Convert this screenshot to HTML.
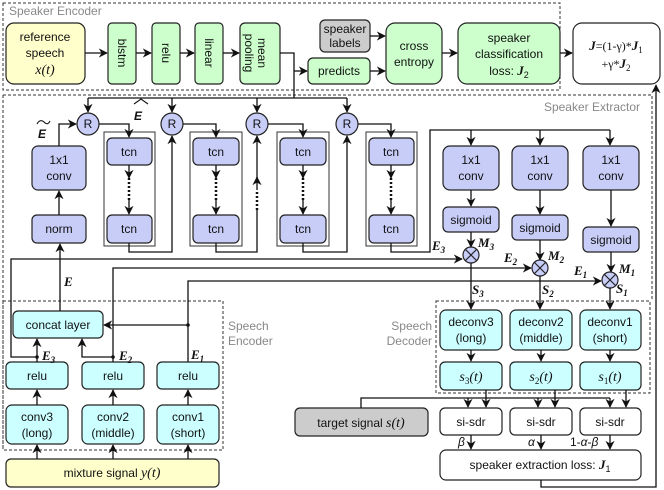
<!DOCTYPE html>
<html><head><meta charset="utf-8"><style>
html,body{margin:0;padding:0;background:#fff}
svg{display:block}
text{font-family:"Liberation Sans",sans-serif;font-size:12px;fill:#111}
.m{font-family:"Liberation Serif",serif;font-style:italic;font-weight:bold;font-size:13px}
.g{fill:#888;font-size:12px}
.b{stroke:#222;stroke-width:1.2}
.l{stroke:#111;stroke-width:1.3;fill:none}
.d{stroke:#333;stroke-width:1;fill:none;stroke-dasharray:3,2}
</style></head><body>
<svg width="664" height="490" viewBox="0 0 664 490" xmlns="http://www.w3.org/2000/svg">
<defs><marker id="a" viewBox="0 0 10 10" refX="9" refY="5" markerWidth="7" markerHeight="7" orient="auto-start-reverse"><path d="M0,0 L10,5 L0,10 L3,5z" fill="#111"/></marker></defs>

<rect class="d" x="3" y="3" width="557" height="87"/>
<text class="g" x="9" y="15">Speaker Encoder</text>
<path class="d" d="M3,95 H652 V300 M3,95 V450"/>
<text class="g" x="640" y="111" text-anchor="end">Speaker Extractor</text>
<rect class="d" x="3" y="301" width="220" height="149"/>
<text class="g" x="228" y="330">Speech</text><text class="g" x="228" y="345">Encoder</text>
<rect class="d" x="436" y="301" width="214" height="92"/>
<text class="g" x="432" y="330" text-anchor="end">Speech</text><text class="g" x="432" y="345" text-anchor="end">Decoder</text>

<rect class="b" x="6" y="23" width="79" height="61" rx="8" fill="#ffffcc"/>
<text x="45" y="41" text-anchor="middle">reference</text><text x="45" y="57" text-anchor="middle">speech</text>
<text x="45" y="74" text-anchor="middle" style="font-family:'Liberation Serif',serif;font-style:italic;font-size:14px">x(t)</text>
<rect class="b" x="108" y="23" width="28" height="61" rx="4" fill="#ccffcc"/>
<rect class="b" x="152" y="23" width="28" height="61" rx="4" fill="#ccffcc"/>
<rect class="b" x="195" y="23" width="28" height="61" rx="4" fill="#ccffcc"/>
<rect class="b" x="240" y="23" width="40" height="61" rx="5" fill="#ccffcc"/>
<text transform="translate(118,53) rotate(90)" text-anchor="middle">blstm</text>
<text transform="translate(162,53) rotate(90)" text-anchor="middle">relu</text>
<text transform="translate(205,53) rotate(90)" text-anchor="middle">linear</text>
<text transform="translate(258,53) rotate(90)" text-anchor="middle">mean</text>
<text transform="translate(245,53) rotate(90)" text-anchor="middle">pooling</text>
<path class="l" marker-end="url(#a)" d="M85,53 H107"/>
<path class="l" marker-end="url(#a)" d="M136,53 H151"/>
<path class="l" marker-end="url(#a)" d="M180,53 H194"/>
<path class="l" marker-end="url(#a)" d="M223,53 H239"/>
<rect class="b" x="320" y="20" width="50" height="32" rx="5" fill="#cccccc"/>
<text x="345" y="33" text-anchor="middle">speaker</text><text x="345" y="47" text-anchor="middle">labels</text>
<rect class="b" x="308" y="58" width="62" height="26" rx="5" fill="#ccffcc"/>
<text x="339" y="75" text-anchor="middle">predicts</text>
<path class="l" d="M280,53 H294 V98"/>
<path class="l" marker-end="url(#a)" d="M294,71 H307"/>
<rect class="b" x="386" y="23" width="56" height="61" rx="9" fill="#ccffcc"/>
<text x="414" y="50" text-anchor="middle">cross</text><text x="414" y="66" text-anchor="middle">entropy</text>
<path class="l" marker-end="url(#a)" d="M370,36 H385"/>
<path class="l" marker-end="url(#a)" d="M370,71 H385"/>
<rect class="b" x="458" y="23" width="102" height="61" rx="9" fill="#ccffcc"/>
<text x="509" y="42" text-anchor="middle">speaker</text><text x="509" y="58" text-anchor="middle">classification</text>
<text x="509" y="75" text-anchor="middle">loss: <tspan class="m">J</tspan><tspan style="font-size:9px" dy="3">2</tspan></text>
<path class="l" marker-end="url(#a)" d="M442,53 H457"/>
<path class="l" marker-end="url(#a)" d="M560,53 H572"/>
<rect class="b" x="573" y="23" width="87" height="61" rx="9" fill="#fff"/>
<text x="616" y="50" text-anchor="middle" style="font-family:'Liberation Serif',serif;font-size:12px"><tspan class="m">J</tspan>=(1-γ)*<tspan class="m">J</tspan><tspan style="font-size:9px" dy="3">1</tspan></text>
<text x="616" y="68" text-anchor="middle" style="font-family:'Liberation Serif',serif;font-size:12px">+γ*<tspan class="m">J</tspan><tspan style="font-size:9px" dy="3">2</tspan></text>

<path class="l" d="M88,98 H347"/>
<path class="l" marker-end="url(#a)" d="M88,98 V112"/>
<path class="l" marker-end="url(#a)" d="M172,98 V112"/>
<path class="l" marker-end="url(#a)" d="M257,98 V112"/>
<path class="l" marker-end="url(#a)" d="M347,98 V112"/>
<g fill="#c8cdf8" stroke="#222" stroke-width="1.2">
<circle cx="88" cy="124" r="11"/><circle cx="172" cy="124" r="11"/><circle cx="257" cy="124" r="11"/><circle cx="347" cy="124" r="11"/></g>
<g text-anchor="middle"><text x="88" y="128">R</text><text x="172" y="128">R</text><text x="257" y="128">R</text><text x="347" y="128">R</text></g>

<rect class="b" x="32" y="146" width="54" height="44" rx="6" fill="#c8cdf8"/>
<text x="59" y="164" text-anchor="middle">1x1</text><text x="59" y="180" text-anchor="middle">conv</text>
<rect class="b" x="32" y="215" width="54" height="28" rx="5" fill="#c8cdf8"/>
<text x="59" y="233" text-anchor="middle">norm</text>
<path class="l" marker-end="url(#a)" d="M59,215 V191"/>
<path class="l" marker-end="url(#a)" d="M59,146 V124 H76"/>
<text x="38" y="138" font-size="16" font-family="Liberation Serif" font-style="italic" font-weight="bold">E</text>
<path d="M37,124 C39,120 42,120 44,122 S48,125 50,121" stroke="#111" stroke-width="1.1" fill="none"/>
<text x="134" y="120" font-size="16" font-family="Liberation Serif" font-style="italic" font-weight="bold">E</text>
<path d="M134,104 L141,99 L148,104" stroke="#111" stroke-width="1.1" fill="none"/>

<g>
<rect x="104" y="132" width="51" height="114" fill="none" stroke="#333"/>
<rect x="190" y="132" width="52" height="114" fill="none" stroke="#333"/>
<rect x="277" y="132" width="52" height="114" fill="none" stroke="#333"/>
<rect x="366" y="132" width="51" height="114" fill="none" stroke="#333"/>
</g>
<g fill="#c8cdf8">
<rect class="b" x="107" y="138" width="45" height="27" rx="5"/><rect class="b" x="107" y="215" width="45" height="28" rx="5"/>
<rect class="b" x="193" y="138" width="46" height="27" rx="5"/><rect class="b" x="193" y="215" width="46" height="28" rx="5"/>
<rect class="b" x="280" y="138" width="46" height="27" rx="5"/><rect class="b" x="280" y="215" width="46" height="28" rx="5"/>
<rect class="b" x="369" y="138" width="45" height="27" rx="5"/><rect class="b" x="369" y="215" width="45" height="28" rx="5"/>
</g>
<g text-anchor="middle">
<text x="129" y="156">tcn</text><text x="129" y="233">tcn</text>
<text x="216" y="156">tcn</text><text x="216" y="233">tcn</text>
<text x="303" y="156">tcn</text><text x="303" y="233">tcn</text>
<text x="391" y="156">tcn</text><text x="391" y="233">tcn</text>
</g>
<g>
<path class="l" marker-end="url(#a)" d="M129,200 V214"/><path d="M129,178 V200" stroke="#111" stroke-width="2.5" stroke-dasharray="2,2"/>
<path class="l" marker-end="url(#a)" d="M129,165 V178"/>
<path class="l" marker-end="url(#a)" d="M216,165 V178"/><path class="l" marker-end="url(#a)" d="M216,200 V214"/><path d="M216,178 V200" stroke="#111" stroke-width="2.5" stroke-dasharray="2,2"/>
<path class="l" marker-end="url(#a)" d="M303,165 V178"/><path class="l" marker-end="url(#a)" d="M303,200 V214"/><path d="M303,178 V200" stroke="#111" stroke-width="2.5" stroke-dasharray="2,2"/>
<path class="l" marker-end="url(#a)" d="M391,165 V178"/><path class="l" marker-end="url(#a)" d="M391,200 V214"/><path d="M391,178 V200" stroke="#111" stroke-width="2.5" stroke-dasharray="2,2"/>
</g>
<path class="l" marker-end="url(#a)" d="M99,124 H129 V137"/>
<path class="l" marker-end="url(#a)" d="M183,124 H216 V137"/>
<path class="l" marker-end="url(#a)" d="M268,124 H303 V137"/>
<path class="l" marker-end="url(#a)" d="M358,124 H391 V137"/>
<path class="l" marker-end="url(#a)" d="M129,243 V252 H172 V136"/>
<path class="l" d="M216,243 V252 H257 V210"/><path d="M257,210 V190" stroke="#111" stroke-width="2.5" stroke-dasharray="2,2"/><path class="l" marker-end="url(#a)" d="M257,190 V177"/>
<path class="l" marker-end="url(#a)" d="M257,178 V136"/>
<path class="l" marker-end="url(#a)" d="M303,243 V252 H347 V136"/>
<path class="l" d="M391,243 V252 H430 V130 H610"/>
<path class="l" marker-end="url(#a)" d="M471,130 V145"/>
<path class="l" marker-end="url(#a)" d="M540,130 V145"/>
<path class="l" marker-end="url(#a)" d="M610,130 V145"/>

<g fill="#c8cdf8">
<rect class="b" x="443" y="146" width="56" height="44" rx="7"/><rect class="b" x="512" y="146" width="56" height="44" rx="7"/><rect class="b" x="583" y="146" width="56" height="44" rx="7"/>
<rect class="b" x="443" y="207" width="56" height="25" rx="5"/><rect class="b" x="512" y="215" width="56" height="25" rx="5"/><rect class="b" x="583" y="227" width="56" height="25" rx="5"/>
</g>
<g text-anchor="middle">
<text x="471" y="164">1x1</text><text x="471" y="180">conv</text>
<text x="540" y="164">1x1</text><text x="540" y="180">conv</text>
<text x="611" y="164">1x1</text><text x="611" y="180">conv</text>
<text x="471" y="224">sigmoid</text><text x="540" y="232">sigmoid</text><text x="611" y="244">sigmoid</text>
</g>
<path class="l" marker-end="url(#a)" d="M471,190 V206"/>
<path class="l" marker-end="url(#a)" d="M540,190 V214"/>
<path class="l" marker-end="url(#a)" d="M611,190 V226"/>
<path class="l" marker-end="url(#a)" d="M471,232 V247"/>
<path class="l" marker-end="url(#a)" d="M540,240 V260"/>
<path class="l" marker-end="url(#a)" d="M611,252 V272"/>
<g fill="#c8cdf8" stroke="#222" stroke-width="1.2">
<circle cx="471" cy="255" r="8"/><circle cx="540" cy="268" r="8"/><circle cx="610" cy="280" r="8"/></g>
<g stroke="#222" stroke-width="1.2">
<path d="M465,249 L477,261 M477,249 L465,261"/><path d="M534,262 L546,274 M546,262 L534,274"/><path d="M604,274 L616,286 M616,274 L604,286"/></g>
<text class="m" x="478" y="247">M<tspan style="font-size:9px" dy="3">3</tspan></text>
<text class="m" x="548" y="260">M<tspan style="font-size:9px" dy="3">2</tspan></text>
<text class="m" x="619" y="273">M<tspan style="font-size:9px" dy="3">1</tspan></text>
<text class="m" x="432" y="250">E<tspan style="font-size:9px" dy="3">3</tspan></text>
<text class="m" x="504" y="262">E<tspan style="font-size:9px" dy="3">2</tspan></text>
<text class="m" x="574" y="275">E<tspan style="font-size:9px" dy="3">1</tspan></text>
<text class="m" x="472" y="294">S<tspan style="font-size:9px" dy="3">3</tspan></text>
<text class="m" x="542" y="294">S<tspan style="font-size:9px" dy="3">2</tspan></text>
<text class="m" x="616" y="293">S<tspan style="font-size:9px" dy="3">1</tspan></text>
<path class="l" marker-end="url(#a)" d="M471,263 V309"/>
<path class="l" marker-end="url(#a)" d="M540,276 V309"/>
<path class="l" marker-end="url(#a)" d="M610,288 V309"/>

<path class="l" marker-end="url(#a)" d="M37,357 H11 V259 H462"/>
<path class="l" marker-end="url(#a)" d="M113,362 V268 H531"/>
<path class="l" marker-end="url(#a)" d="M188,362 V281 H601"/>

<rect class="b" x="13" y="311" width="90" height="27" rx="5" fill="#ccffff"/>
<text x="58" y="329" text-anchor="middle">concat layer</text>
<path class="l" marker-end="url(#a)" d="M60,311 V244"/>
<text class="m" x="64" y="286">E</text>
<g fill="#ccffff">
<rect class="b" x="6" y="362" width="62" height="27" rx="5"/><rect class="b" x="82" y="362" width="62" height="27" rx="5"/><rect class="b" x="157" y="362" width="62" height="27" rx="5"/>
<rect class="b" x="6" y="405" width="62" height="39" rx="6"/><rect class="b" x="82" y="405" width="62" height="39" rx="6"/><rect class="b" x="157" y="405" width="62" height="39" rx="6"/>
</g>
<g text-anchor="middle">
<text x="37" y="380">relu</text><text x="113" y="380">relu</text><text x="188" y="380">relu</text>
<text x="37" y="421">conv3</text><text x="37" y="437">(long)</text>
<text x="113" y="421">conv2</text><text x="113" y="437">(middle)</text>
<text x="188" y="421">conv1</text><text x="188" y="437">(short)</text>
</g>
<path class="l" marker-end="url(#a)" d="M37,362 V339"/>
<path class="l" marker-end="url(#a)" d="M113,357 H82 V339"/>
<path class="l" marker-end="url(#a)" d="M188,325 H104"/>
<circle cx="37" cy="357" r="1.8" fill="#111"/><circle cx="113" cy="357" r="1.8" fill="#111"/><circle cx="188" cy="325" r="1.8" fill="#111"/>
<text class="m" x="42" y="360">E<tspan style="font-size:9px" dy="3">3</tspan></text>
<text class="m" x="119" y="360">E<tspan style="font-size:9px" dy="3">2</tspan></text>
<text class="m" x="191" y="359">E<tspan style="font-size:9px" dy="3">1</tspan></text>
<path class="l" marker-end="url(#a)" d="M37,405 V390"/><path class="l" marker-end="url(#a)" d="M113,405 V390"/><path class="l" marker-end="url(#a)" d="M188,405 V390"/>
<path class="l" marker-end="url(#a)" d="M37,459 V445"/><path class="l" marker-end="url(#a)" d="M113,459 V445"/><path class="l" marker-end="url(#a)" d="M188,459 V445"/>
<rect class="b" x="6" y="459" width="213" height="28" rx="5" fill="#ffffcc"/>
<text x="112" y="477" text-anchor="middle">mixture signal <tspan style="font-family:'Liberation Serif',serif;font-style:italic;font-size:14px">y(t)</tspan></text>

<g fill="#ccffff">
<rect class="b" x="440" y="310" width="62" height="40" rx="6"/><rect class="b" x="510" y="310" width="62" height="40" rx="6"/><rect class="b" x="580" y="310" width="61" height="40" rx="6"/>
<rect class="b" x="440" y="362" width="62" height="28" rx="5"/><rect class="b" x="510" y="362" width="62" height="28" rx="5"/><rect class="b" x="580" y="362" width="61" height="28" rx="5"/>
</g>
<g text-anchor="middle">
<text x="471" y="326">deconv3</text><text x="471" y="342">(long)</text>
<text x="541" y="326">deconv2</text><text x="541" y="342">(middle)</text>
<text x="610" y="326">deconv1</text><text x="610" y="342">(short)</text>
<text x="471" y="381" style="font-family:'Liberation Serif',serif;font-style:italic;font-size:14px">s<tspan style="font-size:9px;font-style:normal" dy="3">3</tspan><tspan dy="-3">(t)</tspan></text>
<text x="541" y="381" style="font-family:'Liberation Serif',serif;font-style:italic;font-size:14px">s<tspan style="font-size:9px;font-style:normal" dy="3">2</tspan><tspan dy="-3">(t)</tspan></text>
<text x="610" y="381" style="font-family:'Liberation Serif',serif;font-style:italic;font-size:14px">s<tspan style="font-size:9px;font-style:normal" dy="3">1</tspan><tspan dy="-3">(t)</tspan></text>
</g>
<path class="l" marker-end="url(#a)" d="M471,350 V361"/><path class="l" marker-end="url(#a)" d="M541,350 V361"/><path class="l" marker-end="url(#a)" d="M610,350 V361"/>
<rect class="b" x="295" y="408" width="133" height="28" rx="5" fill="#cccccc"/>
<text x="361" y="427" text-anchor="middle">target signal <tspan style="font-family:'Liberation Serif',serif;font-style:italic;font-size:14px">s(t)</tspan></text>
<path class="l" d="M361,408 V398 H610"/>
<path class="l" marker-end="url(#a)" d="M468,398 V407"/><path class="l" marker-end="url(#a)" d="M538,398 V407"/><path class="l" marker-end="url(#a)" d="M610,398 V407"/>
<path class="l" marker-end="url(#a)" d="M486,390 V407"/><path class="l" marker-end="url(#a)" d="M555,390 V407"/><path class="l" marker-end="url(#a)" d="M626,390 V407"/>
<rect class="b" x="440" y="408" width="62" height="27" rx="5" fill="#fff"/><rect class="b" x="510" y="408" width="62" height="27" rx="5" fill="#fff"/><rect class="b" x="580" y="408" width="61" height="27" rx="5" fill="#fff"/>
<g text-anchor="middle"><text x="471" y="426">si-sdr</text><text x="541" y="426">si-sdr</text><text x="610" y="426">si-sdr</text></g>
<path class="l" marker-end="url(#a)" d="M471,435 V449"/><path class="l" marker-end="url(#a)" d="M541,435 V449"/><path class="l" marker-end="url(#a)" d="M610,435 V449"/>
<g style="font-family:'Liberation Serif',serif;font-style:italic;font-size:13px">
<text x="458" y="446">β</text><text x="528" y="446">α</text><text x="570" y="446" style="font-style:normal">1-<tspan style="font-style:italic">α</tspan>-<tspan style="font-style:italic">β</tspan></text></g>
<rect class="b" x="440" y="450" width="201" height="30" rx="6" fill="#fff"/>
<text x="540" y="469" text-anchor="middle">speaker extraction loss: <tspan class="m">J</tspan><tspan style="font-size:9px" dy="3">1</tspan></text>
<path class="l" marker-end="url(#a)" d="M541,480 V487 H656 V85"/>
</svg>
</body></html>
